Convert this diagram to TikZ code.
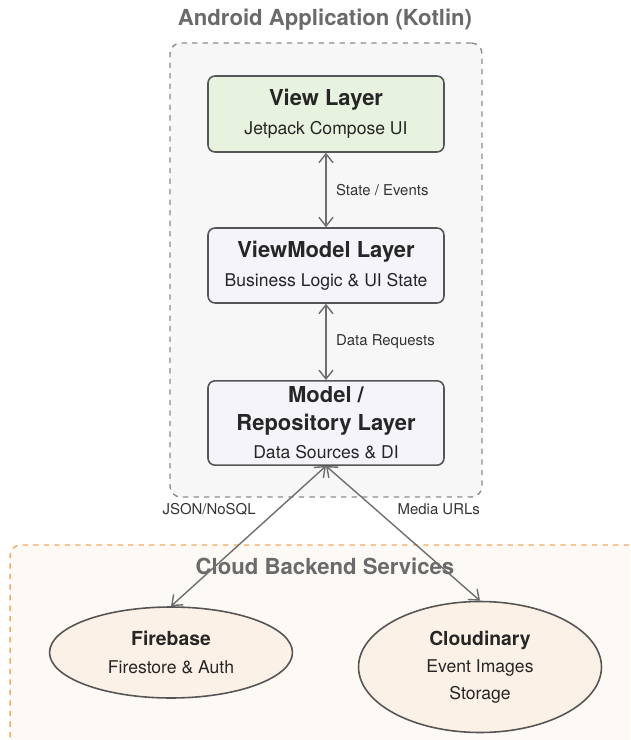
\documentclass[tikz,border=0pt]{standalone}
\usepackage{fontspec}
\setmainfont{TeX Gyre Heros}
\setsansfont{TeX Gyre Heros}
\usepackage{xcolor}
\usepackage{tikz}
\usetikzlibrary{shapes.geometric, positioning, arrows.meta}

\definecolor{titlegray}{HTML}{6A6A6A}
\definecolor{edgegray}{HTML}{6E6E6E}
\definecolor{boxline}{HTML}{555555}
\definecolor{appfill}{HTML}{F7F7F7}
\definecolor{appline}{HTML}{8C8C8C}
\definecolor{viewfill}{HTML}{E7F2DF}
\definecolor{layerfill}{HTML}{F4F4FA}
\definecolor{cloudfill}{HTML}{FDFAF6}
\definecolor{cloudline}{HTML}{F4A860}
\definecolor{svcfill}{HTML}{FCF1E6}

\begin{document}
\begin{tikzpicture}[
            x=0.02cm, y=-0.02cm,
            font=\sffamily,
            >={Straight Barb[length=5pt, width=8pt]},
            group/.style={draw, dashed, line width=0.8pt, rounded corners=6pt},
            grouptitle/.style={font=\fontsize{12.6}{15}\selectfont\bfseries, text=titlegray},
            layer/.style={draw=boxline, line width=0.9pt, rounded corners=4pt, minimum width=4.72cm, align=center, text=black!85},
            service/.style={ellipse, draw=boxline, line width=0.9pt, fill=svcfill, minimum width=4.86cm, inner sep=0pt, align=center, text=black!85},
            link/.style={<->, draw=edgegray, line width=0.8pt},
            linklabel/.style={font=\fontsize{8.5}{10}\selectfont, text=black!80}
        ]

        \clip (0,0) rectangle (630,740);
        \useasboundingbox (0,0) rectangle (630,740);

        % --- Grupo de servicios en la nube ---
        \node[group, draw=cloudline, fill=cloudfill, minimum width=12.8cm, minimum height=4.4cm] (cloudgroup) at (330,655) {};
        \node[grouptitle] (cloudtitle) at (325,566) {Cloud Backend Services};

        % --- Grupo de la aplicacion ---
        \node[group, draw=appline, fill=appfill, minimum width=6.24cm, minimum height=9.08cm] (appgroup) at (326,270) {};
        \node[grouptitle] (apptitle) at (325,20) {Android Application (Kotlin)};

        % --- Capas ---
        \node[layer, fill=viewfill, minimum height=1.52cm] (view) at (326,114)
        {{\fontsize{12.5}{14}\selectfont\bfseries View Layer}\\[4.5pt]
         {\fontsize{10}{12}\selectfont Jetpack Compose UI}};
        \node[layer, fill=layerfill, minimum height=1.5cm] (viewmodel) at (326,265.5)
        {{\fontsize{12.5}{14}\selectfont\bfseries ViewModel Layer}\\[4.5pt]
         {\fontsize{10}{12}\selectfont Business Logic \& UI State}};
        \node[layer, fill=layerfill, minimum height=1.68cm] (model) at (326,423)
        {{\fontsize{12.5}{14}\selectfont\bfseries Model /}\\[4pt]
         {\fontsize{12.5}{14}\selectfont\bfseries Repository Layer}\\[4pt]
         {\fontsize{10}{12}\selectfont Data Sources \& DI}};

        % --- Servicios ---
        \node[service, minimum height=1.82cm] (firebase) at (171,652.5)
        {{\fontsize{11}{13}\selectfont\bfseries Firebase}\\[4.5pt]
         {\fontsize{10}{12}\selectfont Firestore \& Auth}};
        \node[service, minimum height=2.62cm] (cloudinary) at (480,667)
        {{\fontsize{11}{13}\selectfont\bfseries Cloudinary}\\[3.5pt]
         {\fontsize{10}{12}\selectfont Event Images}\\[3.5pt]
         {\fontsize{10}{12}\selectfont Storage}};

        % --- Flechas ---
        \draw[link] (view) -- node[linklabel, right=2pt] {State / Events} (viewmodel);
        \draw[link] (viewmodel) -- node[linklabel, right=2pt] {Data Requests} (model);
        \draw[link] (model.south) -- node[linklabel, pos=0.31, left=9pt] {JSON/NoSQL} (firebase.north);
        \draw[link] (model.south) -- node[linklabel, pos=0.32, right=9pt] {Media URLs} (cloudinary.north);

\end{tikzpicture}
\end{document}
